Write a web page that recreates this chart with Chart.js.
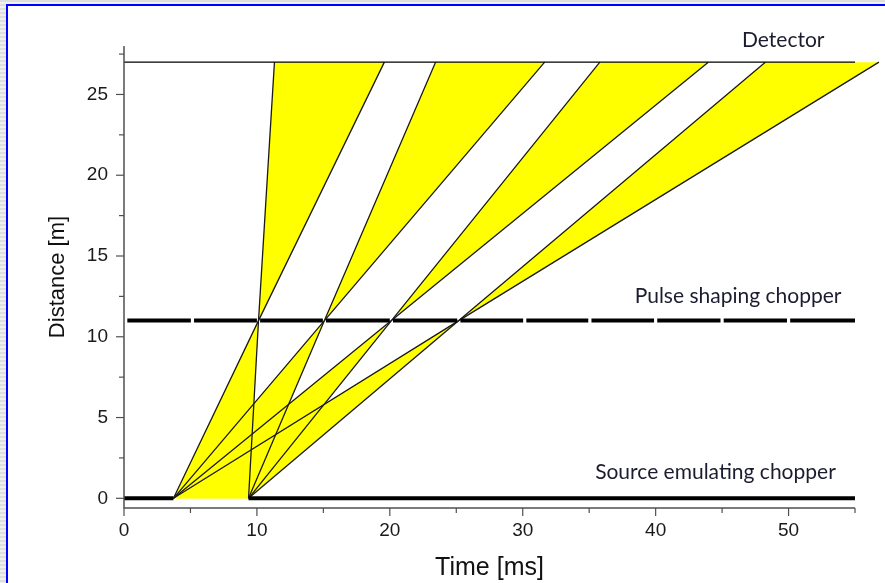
<!DOCTYPE html>
<html>
<head>
<meta charset="utf-8">
<script src="https://cdn.jsdelivr.net/npm/chart.js@4"></script>
<style>
  html, body { margin: 0; padding: 0; }
  body {
    width: 885px; height: 583px; overflow: hidden; position: relative;
    background: repeating-linear-gradient(to bottom, #dedede 0 2px, #f0f0f0 2px 4px);
  }
  #frame {
    position: absolute; left: 6px; top: 4px; right: 0; bottom: 0;
    border-left: 2px solid #0000ff; border-top: 2px solid #0000ff;
    background: #fff;
  }
  #chart { position: absolute; left: 0; top: 0; }
</style>
</head>
<body>
<div id="frame"></div>
<canvas id="chart" width="885" height="583"></canvas>
<script>
// times in ms, distances in m
const srcDist = 0;
const pscDist = 11;
const detDist = 27;
const srcOpen = [3.72, 9.37];                     // source chopper opening edges A, B
const pscOpen = [5.15, 10.12, 15.08, 20.12, 25.19, 30.15, 35.05, 40.0, 45.0, 50.0];
const focus = [10.12, 15.08, 20.12, 25.19];       // PSC openings the rays pass through
const topA = [19.59, 31.65, 43.96, 56.8];         // rays from A reaching detector
const topB = [11.32, 23.44, 35.8, 48.25];         // rays from B reaching detector
const xTicks = [0, 5, 10, 15, 20, 25, 30, 35, 40, 45, 50, 55];
const yTicks = [0, 2.5, 5, 7.5, 10, 12.5, 15, 17.5, 20, 22.5, 25, 27.5];
const notes = [
  { text: 'Detector', x: 49.6, y: 28.35 },
  { text: 'Pulse shaping chopper', x: 46.2, y: 12.5 },
  { text: 'Source emulating chopper', x: 44.5, y: 1.62 }
];

const yellow = '#ffff00';
const gapHalf = 0.12;
const datasets = [];

// yellow wedges: below and above the pulse shaping chopper
focus.forEach((p, i) => {
  datasets.push({
    data: [{x: srcOpen[0], y: srcDist}, {x: srcOpen[1], y: srcDist}, {x: p, y: pscDist}],
    fill: 'shape', backgroundColor: yellow, borderWidth: 0, pointRadius: 0, order: 3
  });
  datasets.push({
    data: [{x: p, y: pscDist}, {x: topB[i], y: detDist}, {x: topA[i], y: detDist}],
    fill: 'shape', backgroundColor: yellow, borderWidth: 0, pointRadius: 0, order: 3
  });
});

// neutron rays
focus.forEach((p, i) => {
  datasets.push({
    data: [{x: srcOpen[0], y: srcDist}, {x: p, y: pscDist}, {x: topA[i], y: detDist}],
    borderColor: '#1a1a1a', borderWidth: 1.3, pointRadius: 0, fill: false, order: 2
  });
  datasets.push({
    data: [{x: srcOpen[1], y: srcDist}, {x: p, y: pscDist}, {x: topB[i], y: detDist}],
    borderColor: '#1a1a1a', borderWidth: 1.3, pointRadius: 0, fill: false, order: 2
  });
});

// source chopper (closed except for the opening)
datasets.push({
  data: [{x: 0, y: srcDist}, {x: srcOpen[0], y: srcDist}, {x: srcOpen[0], y: null},
         {x: srcOpen[1], y: srcDist}, {x: 55, y: srcDist}],
  borderColor: '#000', borderWidth: 4, pointRadius: 0, fill: false, order: 1
});

// pulse shaping chopper, small gaps at openings
const psc = [{x: 0.25, y: pscDist}];
pscOpen.forEach(o => {
  psc.push({x: o - gapHalf, y: pscDist}, {x: o, y: null}, {x: o + gapHalf, y: pscDist});
});
psc.push({x: 55, y: pscDist});
datasets.push({
  data: psc, borderColor: '#000', borderWidth: 4, pointRadius: 0, fill: false, order: 1
});

// detector
datasets.push({
  data: [{x: 0, y: detDist}, {x: 55, y: detDist}],
  borderColor: '#000', borderWidth: 1.2, pointRadius: 0, fill: false, order: 1
});

const tickFont = { family: '"Liberation Sans", Arial, sans-serif', size: 19 };

const axesPlugin = {
  id: 'axesPlugin',
  afterDraw(chart) {
    const { ctx, chartArea, scales: { x, y } } = chart;
    const x0 = x.getPixelForValue(0);
    const xEnd = x.getPixelForValue(55);
    const yb = chartArea.bottom;
    ctx.save();
    ctx.strokeStyle = '#505050';
    ctx.lineWidth = 1.5;
    ctx.beginPath();
    ctx.moveTo(x0, chartArea.top);
    ctx.lineTo(x0, yb);
    ctx.lineTo(xEnd, yb);
    ctx.stroke();
    ctx.lineWidth = 1.2;
    xTicks.forEach(v => {
      const px = x.getPixelForValue(v);
      const len = v % 10 === 0 ? 8 : 5;
      ctx.beginPath();
      ctx.moveTo(px, yb);
      ctx.lineTo(px, yb + len);
      ctx.stroke();
    });
    yTicks.forEach(v => {
      const py = y.getPixelForValue(v);
      const len = v % 5 === 0 ? 8 : 5;
      ctx.beginPath();
      ctx.moveTo(x0, py);
      ctx.lineTo(x0 - len, py);
      ctx.stroke();
    });

    ctx.fillStyle = '#111';
    ctx.font = '25px "Liberation Sans", Arial, sans-serif';
    ctx.textAlign = 'center';
    ctx.textBaseline = 'middle';
    ctx.fillText('Time [ms]', (x0 + xEnd) / 2, 568);

    ctx.fillStyle = '#1c1c30';
    ctx.font = '21px Lato, "Open Sans", sans-serif';
    notes.forEach(n => {
      ctx.fillText(n.text, x.getPixelForValue(n.x), y.getPixelForValue(n.y));
    });
    ctx.restore();
  }
};

new Chart(document.getElementById('chart'), {
  type: 'line',
  data: { datasets },
  options: {
    responsive: false,
    animation: false,
    layout: { padding: { top: 46, right: 3.4, left: 0, bottom: 0 } },
    plugins: { legend: { display: false }, tooltip: { enabled: false } },
    scales: {
      x: {
        type: 'linear', min: 0, max: 57,
        grid: { display: false, drawTicks: false }, border: { display: false },
        afterBuildTicks: s => { s.ticks = xTicks.map(v => ({ value: v })); },
        afterFit: s => { s.height = 75; },
        ticks: {
          autoSkip: false, maxRotation: 0, padding: 11,
          font: tickFont, color: '#1a1a1a',
          callback: v => (v % 10 === 0 ? String(v) : '')
        }
      },
      y: {
        type: 'linear', min: -0.6, max: 28,
        grid: { display: false, drawTicks: false }, border: { display: false },
        afterBuildTicks: s => { s.ticks = yTicks.map(v => ({ value: v })); },
        afterFit: s => { s.width = 124; },
        ticks: {
          autoSkip: false, padding: 16,
          font: tickFont, color: '#1a1a1a',
          callback: v => (v % 5 === 0 ? String(v) : '')
        },
        title: {
          display: true, text: 'Distance [m]', color: '#111',
          font: { family: '"Liberation Sans", Arial, sans-serif', size: 22 },
          padding: { top: 45, bottom: 0 }
        }
      }
    }
  },
  plugins: [axesPlugin]
});
</script>
</body>
</html>
